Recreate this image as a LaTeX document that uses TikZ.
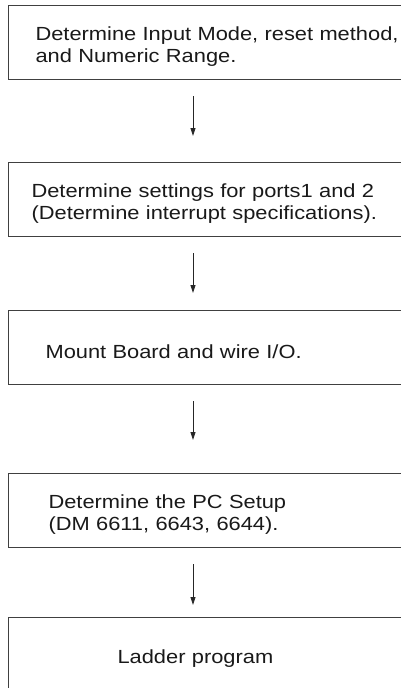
\documentclass[tikz,border=0pt]{standalone}
\usepackage{fontspec}
\setmainfont{Liberation Sans}[FakeStretch=1.15]
\usetikzlibrary{arrows.meta}

\begin{document}
\begin{tikzpicture}[x=1pt, y=-1pt,
  stepbox/.style={draw=black!75, line width=1.1pt, anchor=north west,
    minimum height=74pt, text width=400pt, align=left, inner xsep=#1,
    text=black!90, font=\fontsize{19}{21.8}\selectfont,
    execute at begin node={\rule{0pt}{22pt}}},
  flow/.style={-{Triangle[width=5pt,length=8pt]}, line width=0.9pt,
    black!85, shorten <=16pt}]
  \useasboundingbox (0,0) rectangle (401,688);
  \clip (0,0) rectangle (401,688);
  \coordinate (axis) at (193,0);
  \node[stepbox=27pt] (mode) at (8,5)
    {Determine Input Mode, reset method,\\and Numeric Range.};
  \node[stepbox=23pt] (ports) at (8,162)
    {Determine settings for ports1 and 2\\(Determine interrupt specifications).};
  \node[stepbox=37pt] (mount) at (8,310) {Mount Board and wire I/O.};
  \node[stepbox=40pt] (setup) at (8,473)
    {Determine the PC Setup\\(DM 6611, 6643, 6644).};
  \node[stepbox=109pt] (ladder) at (8,617) {Ladder program};
  \draw[flow, shorten >=26pt] (mode.south -| axis) -- (ports.north -| axis);
  \draw[flow, shorten >=17pt] (ports.south -| axis) -- (mount.north -| axis);
  \draw[flow, shorten >=33pt] (mount.south -| axis) -- (setup.north -| axis);
  \draw[flow, shorten >=12pt] (setup.south -| axis) -- (ladder.north -| axis);
\end{tikzpicture}
\end{document}
